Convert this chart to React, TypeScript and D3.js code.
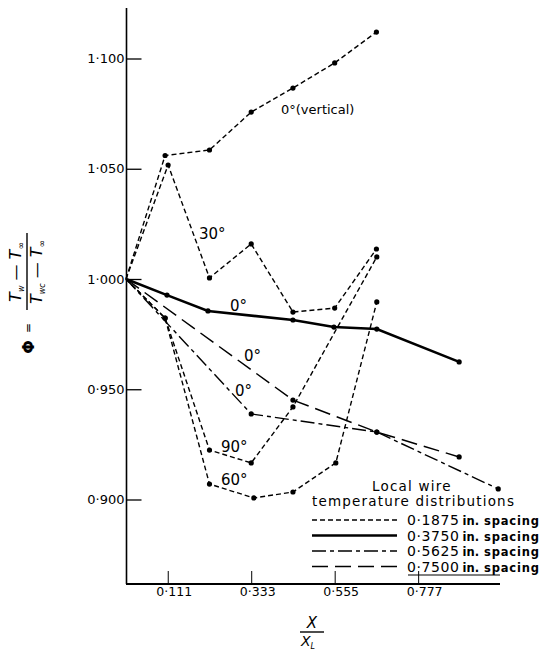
import React, { useRef, useEffect } from "react";
import * as d3 from "d3";

const xTicks = [0.111, 0.333, 0.555, 0.777];
const yTicks = [0.9, 0.95, 1.0, 1.05, 1.1];

// 0.1875 in. spacing curves
const verticalX = [0, 0.104, 0.222, 0.333, 0.444, 0.555, 0.666];
const verticalY = [1.0, 1.056, 1.0585, 1.0757, 1.0866, 1.098, 1.112];
const deg30X = [0, 0.112, 0.222, 0.333, 0.444, 0.555, 0.666];
const deg30Y = [1.0, 1.0517, 1.0005, 1.0159, 0.985, 0.9868, 1.0136];
const deg90X = [0, 0.104, 0.222, 0.333, 0.444, 0.667];
const deg90Y = [1.0, 0.9823, 0.9224, 0.9166, 0.942, 1.01];
const deg60X = [0, 0.104, 0.222, 0.34, 0.444, 0.558, 0.667];
const deg60Y = [1.0, 0.9823, 0.907, 0.9007, 0.9034, 0.9166, 0.9896];

// 0.3750 in. spacing
const thickX = [0, 0.109, 0.218, 0.444, 0.553, 0.667, 0.886];
const thickY = [1.0, 0.9927, 0.9855, 0.9814, 0.9782, 0.9773, 0.9624];

// 0.5625 in. spacing
const dashDotX = [0, 0.333, 0.667, 0.99];
const dashDotY = [1.0, 0.9388, 0.9306, 0.9048];

// 0.7500 in. spacing
const longDashX = [0, 0.444, 0.667, 0.886];
const longDashY = [1.0, 0.9451, 0.9306, 0.9193];

const legendLabels = ["0·1875", "0·3750", "0·5625", "0·7500"];

const styles = {
  s1875: { width: 1.4, dash: "5,3" },
  s3750: { width: 2.6, dash: null },
  s5625: { width: 1.4, dash: "14,4,4,4" },
  s7500: { width: 1.5, dash: "16,7" },
};

const series = [
  { xs: verticalX, ys: verticalY, style: styles.s1875 },
  { xs: deg30X, ys: deg30Y, style: styles.s1875 },
  { xs: deg90X, ys: deg90Y, style: styles.s1875 },
  { xs: deg60X, ys: deg60Y, style: styles.s1875 },
  { xs: thickX, ys: thickY, style: styles.s3750 },
  { xs: dashDotX, ys: dashDotY, style: styles.s5625 },
  { xs: longDashX, ys: longDashY, style: styles.s7500 },
];

const font = "'DejaVu Sans', sans-serif";
const dotFmt = (v) => d3.format(".3f")(v).replace(".", "·");

export default function App() {
  const svgRef = useRef(null);

  useEffect(() => {
    const svg = d3.select(svgRef.current);
    svg.selectAll("*").remove();

    const x = d3.scaleLinear().domain([0, 1]).range([126, 502]);
    const y = d3.scaleLinear().domain([0.9, 1.1]).range([499.5, 58.5]);

    svg.append("rect").attr("width", 554).attr("height", 653).attr("fill", "#fff");

    // axes lines
    svg.append("line").attr("x1", 126.5).attr("x2", 126.5).attr("y1", 8).attr("y2", 584)
      .attr("stroke", "#000").attr("stroke-width", 1.6);
    svg.append("line").attr("x1", 126).attr("x2", 500).attr("y1", 584).attr("y2", 584)
      .attr("stroke", "#000").attr("stroke-width", 1.8);

    svg.append("g")
      .attr("transform", "translate(126.5,0)")
      .call(d3.axisLeft(y).tickValues(yTicks).tickSize(-15).tickSizeOuter(0).tickPadding(2).tickFormat(dotFmt))
      .call((g) => g.select(".domain").remove())
      .call((g) => g.selectAll("line").attr("stroke", "#000").attr("stroke-width", 1.3))
      .call((g) => g.selectAll("text").attr("font-family", font).attr("font-size", 13).attr("fill", "#000"));

    svg.append("g")
      .attr("transform", "translate(0,584)")
      .call(d3.axisBottom(x).tickValues(xTicks).tickSize(-13).tickSizeOuter(0).tickPadding(3).tickFormat(dotFmt))
      .call((g) => g.select(".domain").remove())
      .call((g) => g.selectAll("line").attr("stroke", "#000").attr("stroke-width", 1))
      .call((g) => g.selectAll("text").attr("dx", 6).attr("font-family", font).attr("font-size", 12.5).attr("fill", "#000"));

    const line = d3.line().x((d) => x(d[0])).y((d) => y(d[1]));

    series.forEach((s) => {
      const pts = s.xs.map((v, i) => [v, s.ys[i]]);
      svg.append("path")
        .attr("d", line(pts))
        .attr("fill", "none")
        .attr("stroke", "#000")
        .attr("stroke-width", s.style.width)
        .attr("stroke-dasharray", s.style.dash);
      svg.selectAll(null)
        .data(pts.slice(1))
        .join("circle")
        .attr("cx", (d) => x(d[0]))
        .attr("cy", (d) => y(d[1]))
        .attr("r", 2.6)
        .attr("fill", "#000");
    });

    // curve labels
    const labels = [
      ["0°(vertical)", 281, 114, 13],
      ["30°", 199, 239, 15],
      ["0°", 230, 311, 15],
      ["0°", 244, 361, 15],
      ["0°", 235, 396, 15],
      ["90°", 221, 452, 15],
      ["60°", 221, 485, 15],
    ];
    svg.selectAll(null)
      .data(labels)
      .join("text")
      .attr("x", (d) => d[1])
      .attr("y", (d) => d[2])
      .attr("font-size", (d) => d[3])
      .attr("font-family", font)
      .text((d) => d[0]);

    // legend
    const lg = svg.append("g").attr("font-family", font);
    lg.append("text").attr("x", 372).attr("y", 491).attr("font-size", 13.5).attr("letter-spacing", 1.2).text("Local wire");
    lg.append("text").attr("x", 312).attr("y", 506).attr("font-size", 13.5).attr("letter-spacing", 1.2).text("temperature distributions");
    const legStyles = [styles.s1875, styles.s3750, styles.s5625, styles.s7500];
    legendLabels.forEach((lab, i) => {
      const cy = 520 + i * 15.5;
      lg.append("line").attr("x1", 312).attr("x2", 397).attr("y1", cy).attr("y2", cy)
        .attr("stroke", "#000").attr("stroke-width", legStyles[i].width)
        .attr("stroke-dasharray", legStyles[i].dash);
      const t = lg.append("text").attr("x", 407).attr("y", cy + 5);
      t.append("tspan").attr("font-size", 14).attr("letter-spacing", 0.6).text(lab);
      t.append("tspan").attr("font-size", 11.5).attr("font-weight", "bold").attr("dx", 3).text("in.");
      t.append("tspan").attr("font-size", 11.5).attr("font-weight", "bold").attr("dx", 5).attr("letter-spacing", 0.8).text("spacing");
    });
    lg.append("line").attr("x1", 408).attr("x2", 500).attr("y1", 575).attr("y2", 575)
      .attr("stroke", "#000").attr("stroke-width", 1.2);

    // y label (rotated)
    const yl = svg.append("g").attr("transform", "translate(28,300) rotate(-90)").attr("font-family", font);
    yl.append("text").attr("x", -47).attr("y", 6).attr("text-anchor", "middle").attr("font-size", 16).attr("font-weight", "bold").text("Φ");
    yl.append("text").attr("x", -28).attr("y", 4).attr("text-anchor", "middle").attr("font-size", 12).text("=");
    const num = yl.append("text").attr("x", 28).attr("y", -7).attr("text-anchor", "middle").attr("font-size", 16).attr("font-style", "italic");
    num.append("tspan").text("T");
    num.append("tspan").attr("font-size", 8).attr("dy", 3).text("w");
    num.append("tspan").attr("dy", -3).text(" — T");
    num.append("tspan").attr("font-size", 9).attr("dy", 3).text("∞");
    yl.append("line").attr("x1", -10).attr("x2", 67).attr("y1", -1).attr("y2", -1).attr("stroke", "#000").attr("stroke-width", 1.4);
    const den = yl.append("text").attr("x", 28).attr("y", 14).attr("text-anchor", "middle").attr("font-size", 16).attr("font-style", "italic");
    den.append("tspan").text("T");
    den.append("tspan").attr("font-size", 8).attr("dy", 3).text("wc");
    den.append("tspan").attr("dy", -3).text(" — T");
    den.append("tspan").attr("font-size", 9).attr("dy", 3).text("∞");

    // x label
    const xl = svg.append("g").attr("font-family", font).attr("font-style", "italic");
    xl.append("text").attr("x", 312).attr("y", 628).attr("text-anchor", "middle").attr("font-size", 15).text("X");
    xl.append("line").attr("x1", 300).attr("x2", 324).attr("y1", 632).attr("y2", 632).attr("stroke", "#000").attr("stroke-width", 1.4);
    const xd = xl.append("text").attr("x", 308).attr("y", 646).attr("text-anchor", "middle").attr("font-size", 14);
    xd.append("tspan").text("X");
    xd.append("tspan").attr("font-size", 8).attr("dy", 3).text("L");
  }, []);

  return (
    <div style={{ position: "absolute", left: 0, top: 0 }}>
      <svg ref={svgRef} width={554} height={653}></svg>
    </div>
  );
}
